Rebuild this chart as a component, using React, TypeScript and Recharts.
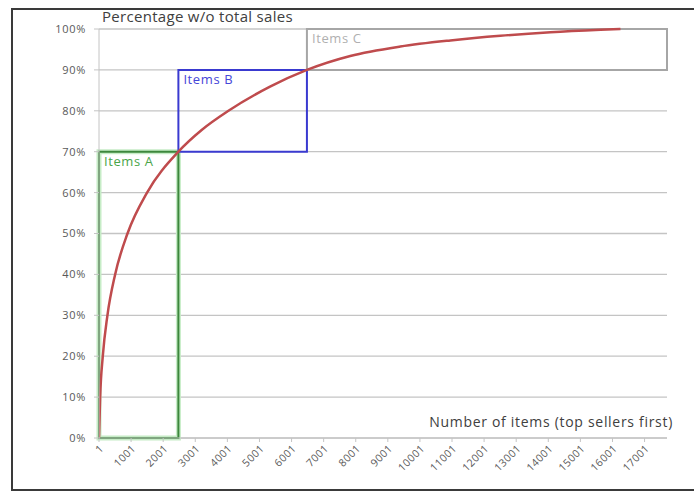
import React from 'react';
import {
  LineChart,
  Line,
  XAxis,
  YAxis,
  CartesianGrid,
  ReferenceArea,
} from 'recharts';

// item rank (top sellers first) vs. cumulative share of total sales, in %
const itemRanks = [1, 37, 119, 264, 504, 889, 1499, 2475, 3200, 4035, 5330, 6480, 7830, 9390, 10950, 12510, 14070, 15630, 16250];
const cumulativeShare = [0, 10, 20, 30, 40, 50, 60, 70, 75.3, 80, 85.9, 90, 93.4, 95.7, 97.2, 98.35, 99.2, 99.8, 100];

const xTicks = [1, 1001, 2001, 3001, 4001, 5001, 6001, 7001, 8001, 9001, 10001, 11001, 12001, 13001, 14001, 15001, 16001, 17001];
const yTicks = [0, 10, 20, 30, 40, 50, 60, 70, 80, 90, 100];

// ABC classes: item range and share range of each frame
const classNames = ['Items A', 'Items B', 'Items C'];
const classItemFrom = [1, 2475, 6480];
const classItemTo = [2475, 6480, 17700];
const classShareFrom = [0, 70, 90];
const classShareTo = [70, 90, 100];

const ITEM_MAX = 17700;

const data = itemRanks.map((item, i) => ({ item, share: cumulativeShare[i] }));

const classColors = ['#3c873c', '#3a3ad0', '#a6a6a6'];
const labelColors = ['#4aa54a', '#4646d8', '#b0b0b0'];

const font = '"Open Sans", sans-serif';

export default function App() {
  return (
    <div
      style={{
        position: 'absolute',
        left: 11,
        top: 8,
        width: 683,
        height: 483,
        boxSizing: 'border-box',
        borderTop: '2px solid #3a3a3a',
        borderLeft: '2px solid #3a3a3a',
        borderBottom: '2px solid #3a3a3a',
        background: '#fff',
        fontFamily: font,
      }}
    >
      <div
        style={{
          position: 'absolute',
          left: 89,
          top: -3,
          fontSize: 15,
          letterSpacing: 0.3,
          lineHeight: '18px',
          color: '#404040',
          whiteSpace: 'nowrap',
        }}
      >
        Percentage w/o total sales
      </div>
      <div
        style={{
          position: 'absolute',
          right: 21,
          top: 403,
          fontSize: 14,
          letterSpacing: 0.7,
          lineHeight: '18px',
          color: '#404040',
          whiteSpace: 'nowrap',
        }}
      >
        Number of items (top sellers first)
      </div>
      <div style={{ position: 'absolute', left: 0, top: 0 }}>
        <LineChart
          width={676}
          height={479}
          data={data}
          margin={{ top: 19, right: 22, bottom: 11, left: 46 }}
        >
          <CartesianGrid vertical={false} stroke="#c4c4c4" strokeWidth={1.3} />
          <XAxis
            type="number"
            dataKey="item"
            domain={[1, ITEM_MAX]}
            ticks={xTicks}
            interval={0}
            allowDataOverflow
            height={40}
            angle={-45}
            textAnchor="end"
            tickSize={4}
            stroke="#c4c4c4"
            tick={{ fontSize: 10.5, letterSpacing: 0.4, fill: '#595959', fontFamily: font }}
          />
          <YAxis
            type="number"
            domain={[0, 100]}
            ticks={yTicks}
            interval={0}
            width={40}
            tickSize={5}
            tickMargin={8}
            stroke="#c4c4c4"
            tickFormatter={(v: number) => `${v}%`}
            tick={{ fontSize: 11, letterSpacing: 0.7, fill: '#595959', fontFamily: font }}
          />
          <Line
            type="monotone"
            dataKey="share"
            stroke="#bf4b4d"
            strokeWidth={2.5}
            dot={false}
            isAnimationActive={false}
          />
          {/* soft glow behind the class A frame */}
          <ReferenceArea
            x1={classItemFrom[0]}
            x2={classItemTo[0]}
            y1={classShareFrom[0]}
            y2={classShareTo[0]}
            fill="none"
            stroke="#c6ecc6"
            strokeWidth={5}
          />
          {classNames.map((name, i) => (
            <ReferenceArea
              key={name}
              x1={classItemFrom[i]}
              x2={classItemTo[i]}
              y1={classShareFrom[i]}
              y2={classShareTo[i]}
              fill="none"
              stroke={classColors[i]}
              strokeWidth={2}
              label={{
                value: name,
                position: 'insideTopLeft',
                offset: 5,
                fill: labelColors[i],
                fontSize: 13,
                letterSpacing: 0.6,
                fontFamily: font,
              }}
            />
          ))}
        </LineChart>
      </div>
    </div>
  );
}
